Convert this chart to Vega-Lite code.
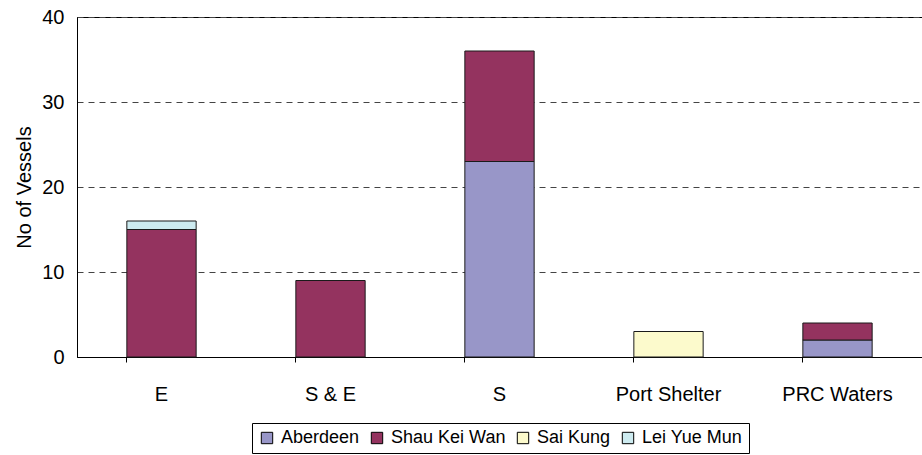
{
  "$schema": "https://vega.github.io/schema/vega-lite/v6.json",
  "autosize": "none",
  "width": 845,
  "height": 340,
  "padding": {"left": 77, "top": 17, "right": 0, "bottom": 98},
  "background": "white",
  "config": {
    "font": "Liberation Sans",
    "view": {"stroke": "black", "strokeWidth": 1},
    "legend": {"labelFont": "Liberation Sans", "labelFontSize": 18, "labelColor": "black"}
  },
  "data": {
    "values": [
      {"area": "E", "port": "Shau Kei Wan", "vessels": 15},
      {"area": "E", "port": "Lei Yue Mun", "vessels": 1},
      {"area": "S & E", "port": "Shau Kei Wan", "vessels": 9},
      {"area": "S", "port": "Aberdeen", "vessels": 23},
      {"area": "S", "port": "Shau Kei Wan", "vessels": 13},
      {"area": "Port Shelter", "port": "Sai Kung", "vessels": 3},
      {"area": "PRC Waters", "port": "Aberdeen", "vessels": 2},
      {"area": "PRC Waters", "port": "Shau Kei Wan", "vessels": 2}
    ]
  },
  "transform": [
    {"calculate": "indexof(['Aberdeen', 'Shau Kei Wan', 'Sai Kung', 'Lei Yue Mun'], datum.port)", "as": "stackOrder"}
  ],
  "mark": {"type": "bar", "stroke": "#1a1a1a", "strokeWidth": 1},
  "encoding": {
    "x": {
      "field": "area", "type": "nominal",
      "sort": ["E", "S & E", "S", "Port Shelter", "PRC Waters"],
      "scale": {"paddingInner": 0.59, "paddingOuter": 0.295},
      "axis": {"title": null, "labelAngle": 0, "bandPosition": 0, "ticks": true, "tickSize": 5, "tickColor": "black", "domainColor": "black", "labelPadding": 22, "grid": false, "labelFont": "Liberation Sans", "labelFontSize": 20, "labelColor": "black"}
    },
    "y": {
      "field": "vessels", "type": "quantitative", "aggregate": "sum",
      "stack": "zero",
      "scale": {"domain": [0, 40]},
      "axis": {"title": "No of Vessels", "values": [0, 10, 20, 30, 40], "ticks": false, "labelPadding": 13, "domainColor": "black", "grid": true, "gridColor": "#444", "gridDash": [6, 5], "gridWidth": 1, "titlePadding": 7, "labelFont": "Liberation Sans", "labelFontSize": 20, "labelColor": "black", "titleFont": "Liberation Sans", "titleFontSize": 20, "titleFontWeight": "normal", "titleColor": "black"}
    },
    "color": {
      "field": "port", "type": "nominal",
      "sort": ["Aberdeen", "Shau Kei Wan", "Sai Kung", "Lei Yue Mun"],
      "scale": {"domain": ["Aberdeen", "Shau Kei Wan", "Sai Kung", "Lei Yue Mun"], "range": ["#9896C8", "#94335F", "#FCFACC", "#CDEBF0"]},
      "legend": {"title": null, "orient": "none", "legendX": 175, "legendY": 406, "direction": "horizontal", "strokeColor": "black", "padding": 6, "symbolType": "square", "symbolSize": 130, "symbolStrokeColor": "black", "symbolStrokeWidth": 1, "columnPadding": 8, "labelOffset": 5}
    },
    "order": {"field": "stackOrder", "type": "quantitative", "sort": "ascending"}
  }
}
